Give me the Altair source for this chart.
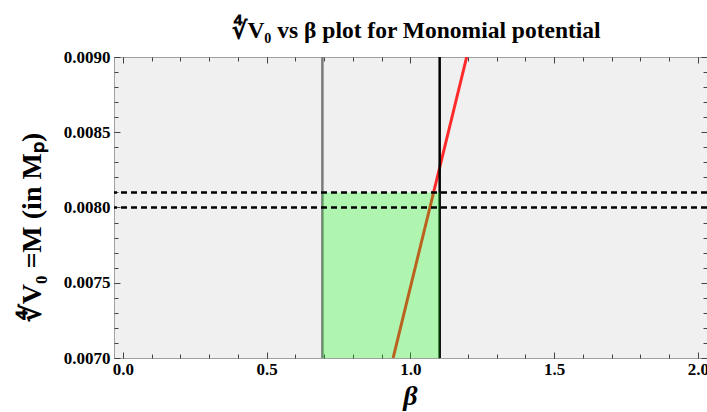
import altair as alt
import pandas as pd

# ---- data ----
beta_lower = [0.694]            # grey vertical line
beta_upper = [1.102]            # black vertical line
v0_levels = [0.0080, 0.0081]    # dashed horizontal lines
band_beta = [0.694, 1.102]      # green band, beta range
band_v0 = [0.0070, 0.0081]      # green band, V0^(1/4) range
curve_beta = [0.940, 1.068, 1.196]
curve_v0 = [0.0070, 0.0080, 0.0090]

x_major = [0.0, 0.5, 1.0, 1.5, 2.0]
x_minor = [0.0, 0.1, 0.2, 0.3, 0.4, 0.5, 0.6, 0.7, 0.8, 0.9, 1.0,
           1.1, 1.2, 1.3, 1.4, 1.5, 1.6, 1.7, 1.8, 1.9, 2.0]
y_major = [0.0070, 0.0075, 0.0080, 0.0085, 0.0090]
y_minor = [0.0070, 0.0071, 0.0072, 0.0073, 0.0074, 0.0075, 0.0076,
           0.0077, 0.0078, 0.0079, 0.0080, 0.0081, 0.0082, 0.0083,
           0.0084, 0.0085, 0.0086, 0.0087, 0.0088, 0.0089, 0.0090]
x_domain = [-0.031, 2.032]
y_domain = [0.0070, 0.0090]

FONT = "Liberation Serif"

curve_df = pd.DataFrame({"beta": curve_beta, "v": curve_v0})
lower_df = pd.DataFrame({"beta": beta_lower})
upper_df = pd.DataFrame({"beta": beta_upper})
levels_df = pd.DataFrame({"v": v0_levels})
band_df = pd.DataFrame({"b1": [band_beta[0]], "b2": [band_beta[1]],
                        "v1": [band_v0[0]], "v2": [band_v0[1]]})

xs = alt.Scale(domain=x_domain, nice=False, zero=False)
ys = alt.Scale(domain=y_domain, nice=False, zero=False)

curve = alt.Chart(curve_df).mark_line(color="#ff2a2a", strokeWidth=3, clip=True).encode(
    x=alt.X("beta:Q", scale=xs, axis=None),
    y=alt.Y("v:Q", scale=ys, axis=None),
)
lower = alt.Chart(lower_df).mark_rule(color="#7a7a7a", strokeWidth=2.5).encode(
    x=alt.X("beta:Q", scale=xs, axis=None)
)
upper = alt.Chart(upper_df).mark_rule(color="black", strokeWidth=2.5).encode(
    x=alt.X("beta:Q", scale=xs, axis=None)
)
band = alt.Chart(band_df).mark_rect(color="#00ff00", opacity=0.27).encode(
    x=alt.X("b1:Q", scale=xs, axis=None),
    x2="b2:Q",
    y=alt.Y("v1:Q", scale=ys, axis=None),
    y2="v2:Q",
)
levels = alt.Chart(levels_df).mark_rule(color="black", strokeWidth=2.5, strokeDash=[6, 4]).encode(
    y=alt.Y("v:Q", scale=ys, axis=None)
)


def axis_layer(xaxis, yaxis):
    return alt.Chart(curve_df).mark_point(opacity=0).encode(
        x=alt.X("beta:Q", scale=xs, axis=xaxis),
        y=alt.Y("v:Q", scale=ys, axis=yaxis),
    )


label_x = alt.Axis(orient="bottom", values=x_major, format=".1f", ticks=False, tickSize=0,
                   domain=False, grid=False, labelFont=FONT, labelFontSize=17,
                   labelFontWeight="bold", labelColor="black", labelPadding=3,
                   labelFlush=False, title="β", titleFont=FONT, titleFontSize=28,
                   titleFontStyle="italic", titleFontWeight="bold", titleColor="black",
                   titleBaseline="alphabetic", titleX=296, titleY=46)
label_y = alt.Axis(orient="left", values=y_major, format=".4f", ticks=False, tickSize=0,
                   domain=False, grid=False, labelFont=FONT, labelFontSize=17,
                   labelFontWeight="bold", labelColor="black", labelPadding=4,
                   labelFlush=False, title="∜V₀ =M (in Mₚ)", titleFont=FONT,
                   titleFontSize=28, titleFontWeight="bold", titleColor="black",
                   titleAngle=-90, titleBaseline="middle", titleX=-82, titleY=170)


def frame_axis(orient, values):
    return alt.Axis(orient=orient, values=values, labels=False, ticks=False,
                    domain=True, domainColor="#a0a0a0", domainWidth=1,
                    grid=False, title=None)


def tick_axis(orient, values, size):
    # inward ticks: outward ticks of length `size`, axis shifted inward by `size`
    return alt.Axis(orient=orient, values=values, labels=False, ticks=True,
                    tickSize=size, offset=-size, tickColor="#444444", tickWidth=1,
                    domain=False, grid=False, title=None)


layers = [
    curve, lower, upper, band, levels,
    axis_layer(label_x, label_y),
    axis_layer(frame_axis("bottom", x_major), frame_axis("left", y_major)),
    axis_layer(frame_axis("top", x_major), frame_axis("right", y_major)),
    axis_layer(tick_axis("bottom", x_major, 6), tick_axis("left", y_major, 6)),
    axis_layer(tick_axis("bottom", x_minor, 4), tick_axis("left", y_minor, 4)),
    axis_layer(tick_axis("top", x_major, 6), tick_axis("right", y_major, 6)),
    axis_layer(tick_axis("top", x_minor, 4), tick_axis("right", y_minor, 4)),
]

chart = alt.layer(*layers).resolve_axis(x="independent", y="independent").properties(
    width=593,
    height=301,
    padding={"left": 114, "top": 57, "right": 0, "bottom": 54},
    autosize="none",
    background="white",
    title=alt.Title(text="∜V₀  vs β plot for Monomial potential", font=FONT,
                    fontSize=23.5, fontWeight="bold", color="black", anchor="middle",
                    baseline="alphabetic", offset=15, dy=28, dx=6, frame="group"),
).configure_view(stroke=None, fill="#f0f0f0")

chart.save("out.html", embed_options={"renderer": "svg", "actions": False})
